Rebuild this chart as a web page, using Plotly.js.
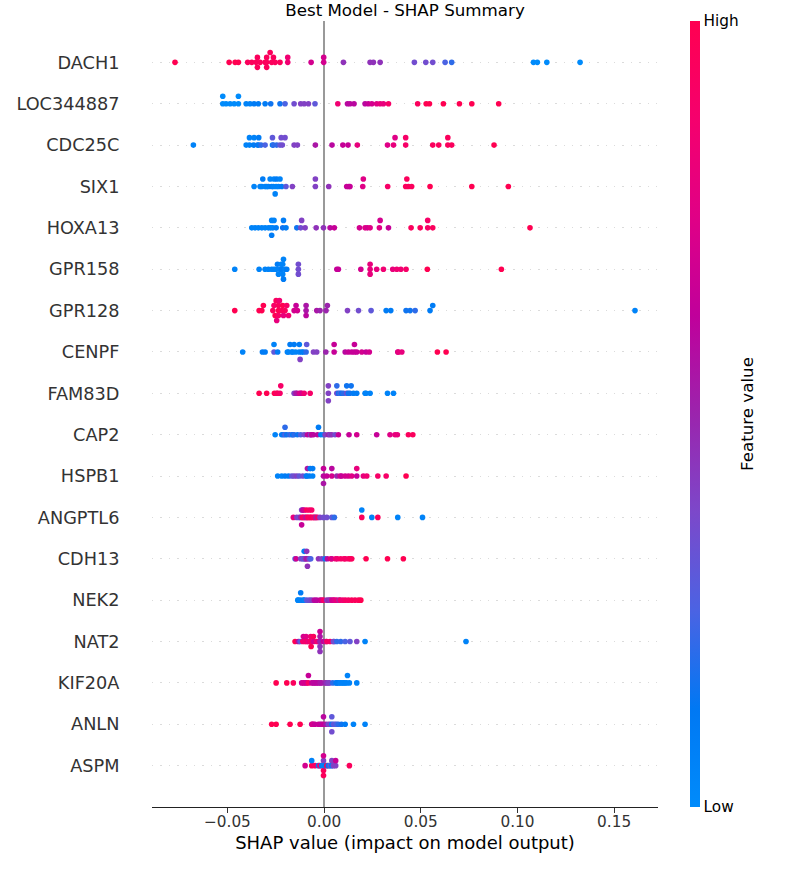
<!DOCTYPE html>
<html><head><meta charset="utf-8">
<script src="https://cdn.plot.ly/plotly-3.0.1.min.js"></script>
<style>html,body{margin:0;padding:0;background:#fff}</style>
</head><body>
<div id="chart" style="width:800px;height:869px"></div>
<script>
// Feature order, top to bottom
const features = ['DACH1','LOC344887','CDC25C','SIX1','HOXA13','GPR158','GPR128','CENPF','FAM83D','CAP2','HSPB1','ANGPTL6','CDH13','NEK2','NAT2','KIF20A','ANLN','ASPM'];

// SHAP values (x) and normalised feature values (colour, 0 = Low, 1 = High)
const DACH1_shap = [-0.0771,-0.0491,-0.0460,-0.0443,-0.0395,-0.0374,-0.0352,-0.0345,-0.0345,-0.0331,-0.0305,-0.0297,-0.0297,-0.0297,-0.0279,-0.0271,-0.0262,-0.0253,-0.0228,-0.0188,-0.0188,-0.0067,-0.0002,-0.0002,0.0100,0.0238,0.0255,0.0290,0.0467,0.0526,0.0562,0.0626,0.0660,0.1083,0.1103,0.1152,0.1324];
const DACH1_value = [1,1,1,1,0.95,0.95,0.95,0.95,0.95,0.95,0.95,0.95,0.95,0.95,0.95,0.95,0.95,0.95,0.95,0.85,0.85,0.7,0.7,0.7,0.45,0.45,0.45,0.45,0.35,0.35,0.35,0.25,0.2,0,0,0,0];

const LOC344887_shap = [-0.0524,-0.0524,-0.0507,-0.0486,-0.0465,-0.0443,-0.0443,-0.0403,-0.0383,-0.0362,-0.0340,-0.0305,-0.0276,-0.0228,-0.0202,-0.0155,-0.0121,-0.0103,-0.0081,-0.0047,0.0071,0.0121,0.0134,0.0155,0.0212,0.0229,0.0247,0.0272,0.0290,0.0307,0.0333,0.0484,0.0528,0.0545,0.0617,0.0700,0.0764,0.0903];
const LOC344887_value = [0,0,0,0,0,0,0,0.05,0.05,0.1,0.1,0.1,0.15,0.15,0.25,0.35,0.4,0.4,0.4,0.3,0.85,0.6,0.6,0.6,0.6,0.65,0.7,0.75,0.8,0.8,0.9,0.95,1,1,1,1,1,1];

const CDC25C_shap = [-0.0676,-0.0403,-0.0386,-0.0386,-0.0365,-0.0362,-0.0345,-0.0338,-0.0338,-0.0326,-0.0305,-0.0267,-0.0267,-0.0262,-0.0245,-0.0228,-0.0222,-0.0216,-0.0202,-0.0155,-0.0138,-0.0045,0.0041,0.0097,0.0124,0.0172,0.0328,0.0359,0.0367,0.0422,0.0422,0.0562,0.0593,0.0640,0.0640,0.0660,0.0879];
const CDC25C_value = [0.05,0.05,0.05,0.05,0.1,0.05,0.15,0.1,0.1,0.2,0.25,0.1,0.3,0.2,0.2,0.3,0.35,0.35,0.35,0.4,0.4,0.55,0.6,0.65,0.65,0.8,0.75,0.8,0.75,0.9,0.9,0.95,0.95,0.95,0.95,0.95,1];

const SIX1_shap = [-0.0362,-0.0331,-0.0322,-0.0317,-0.0305,-0.0297,-0.0288,-0.0279,-0.0271,-0.0262,-0.0259,-0.0253,-0.0248,-0.0245,-0.0236,-0.0228,-0.0219,-0.0197,-0.0164,-0.0045,-0.0045,0.0024,0.0117,0.0128,0.0134,0.0200,0.0203,0.0329,0.0422,0.0428,0.0436,0.0453,0.0548,0.0764,0.0953];
const SIX1_value = [0.05,0.05,0.05,0.1,0.05,0.05,0.05,0.05,0.1,0.05,0.05,0.05,0.05,0.1,0.05,0.05,0.1,0.3,0.4,0.4,0.4,0.45,0.65,0.65,0.65,0.75,0.75,0.9,0.95,0.95,0.95,0.95,1,1,1];

const HOXA13_shap = [-0.0374,-0.0357,-0.0340,-0.0322,-0.0305,-0.0288,-0.0276,-0.0271,-0.0271,-0.0265,-0.0259,-0.0248,-0.0214,-0.0210,-0.0197,-0.0141,-0.0121,-0.0116,-0.0098,-0.0041,-0.0003,0.0031,0.0053,0.0183,0.0212,0.0224,0.0238,0.0286,0.0290,0.0333,0.0450,0.0497,0.0536,0.0536,0.0562,0.1065];
const HOXA13_value = [0.05,0.05,0.05,0.05,0.05,0.05,0.05,0.05,0.1,0.05,0.05,0.1,0.15,0.1,0.1,0.15,0.35,0.4,0.4,0.45,0.45,0.6,0.65,0.7,0.75,0.7,0.75,0.75,0.7,0.65,0.95,0.95,0.9,0.9,0.95,1];

const GPR158_shap = [-0.0462,-0.0336,-0.0305,-0.0288,-0.0271,-0.0259,-0.0248,-0.0241,-0.0236,-0.0228,-0.0222,-0.0219,-0.0214,-0.0214,-0.0210,-0.0210,-0.0202,-0.0193,-0.0133,-0.0133,-0.0133,0.0066,0.0074,0.0190,0.0238,0.0238,0.0238,0.0272,0.0307,0.0355,0.0376,0.0397,0.0424,0.0534,0.0917];
const GPR158_value = [0.05,0.05,0.05,0.05,0.05,0.05,0.05,0.1,0.05,0.05,0.05,0.1,0.05,0.05,0.05,0.1,0.05,0.1,0.35,0.35,0.35,0.65,0.65,0.7,0.8,0.8,0.8,0.8,0.85,0.8,0.85,0.85,0.9,1,1];

const GPR128_shap = [-0.0462,-0.0336,-0.0322,-0.0314,-0.0265,-0.0259,-0.0253,-0.0248,-0.0245,-0.0236,-0.0236,-0.0236,-0.0231,-0.0219,-0.0214,-0.0210,-0.0202,-0.0193,-0.0184,-0.0155,-0.0145,-0.0138,-0.0093,-0.0093,-0.0093,-0.0038,-0.0021,0.0010,0.0017,0.0121,0.0178,0.0243,0.0321,0.0345,0.0424,0.0445,0.0471,0.0548,0.0562,0.1608];
const GPR128_value = [1,1,1,1,0.95,0.9,1,0.95,0.8,1,0.95,0.9,0.85,0.95,1,0.8,0.95,0.9,0.85,0.7,0.65,0.7,0.55,0.55,0.6,0.55,0.5,0.5,0.5,0.4,0.35,0.3,0.1,0.1,0.15,0.15,0.2,0.1,0.1,0.05];

const CENPF_shap = [-0.0421,-0.0319,-0.0305,-0.0259,-0.0259,-0.0240,-0.0190,-0.0184,-0.0176,-0.0167,-0.0162,-0.0155,-0.0147,-0.0129,-0.0128,-0.0124,-0.0116,-0.0107,-0.0093,-0.0090,-0.0055,-0.0038,0.0009,0.0052,0.0052,0.0109,0.0126,0.0143,0.0157,0.0157,0.0169,0.0195,0.0217,0.0234,0.0381,0.0384,0.0402,0.0586,0.0631];
const CENPF_value = [0.05,0.1,0.1,0.3,0.05,0.1,0.05,0.05,0.1,0.05,0.05,0.1,0.05,0.05,0.1,0.4,0.1,0.1,0.2,0.3,0.4,0.4,0.5,0.65,0.65,0.6,0.65,0.65,0.65,0.65,0.65,0.7,0.65,0.7,0.7,0.8,0.8,1,1];

const FAM83D_shap = [-0.0336,-0.0297,-0.0257,-0.0245,-0.0240,-0.0228,-0.0224,-0.0155,-0.0145,-0.0141,-0.0128,-0.0120,-0.0116,-0.0103,-0.0072,0.0022,0.0022,0.0022,0.0066,0.0066,0.0075,0.0083,0.0090,0.0100,0.0117,0.0117,0.0125,0.0134,0.0140,0.0152,0.0169,0.0212,0.0217,0.0238,0.0328,0.0359];
const FAM83D_value = [1,1,1,0.9,0.95,0.9,0.9,0.4,0.55,0.55,0.7,0.75,0.7,0.85,0.9,0.4,0.4,0.4,0.35,0.2,0.15,0.25,0.15,0.2,0.35,0.15,0.15,0.15,0.15,0.1,0.1,0.05,0.05,0.05,0.05,0.05];

const CAP2_shap = [-0.0253,-0.0219,-0.0210,-0.0202,-0.0202,-0.0193,-0.0179,-0.0167,-0.0162,-0.0155,-0.0138,-0.0121,-0.0103,-0.0086,-0.0072,-0.0069,-0.0064,-0.0055,-0.0034,-0.0029,-0.0017,-0.0003,0.0005,0.0022,0.0031,0.0040,0.0057,0.0074,0.0129,0.0169,0.0272,0.0341,0.0367,0.0379,0.0436,0.0459];
const CAP2_value = [0.05,0.1,0.15,0.25,0.2,0.15,0.2,0.25,0.1,0.2,0.15,0.25,0.35,0.6,0.6,0.4,0.65,0.6,0.6,0.1,0.1,0.05,0.4,0.5,0.4,0.45,0.35,0.65,0.65,0.7,0.65,0.75,0.8,0.8,0.95,0.95];

const HSPB1_shap = [-0.0240,-0.0219,-0.0202,-0.0184,-0.0167,-0.0155,-0.0141,-0.0128,-0.0110,-0.0093,-0.0090,-0.0086,-0.0076,-0.0072,-0.0059,-0.0059,-0.0003,-0.0003,-0.0003,0.0014,0.0040,0.0040,0.0066,0.0083,0.0091,0.0109,0.0126,0.0143,0.0169,0.0169,0.0203,0.0221,0.0278,0.0321,0.0424];
const HSPB1_value = [0.05,0.05,0.1,0.1,0.3,0.35,0.4,0.3,0.35,0.2,0.1,0.55,0.1,0.1,0.05,0.1,0.6,0.65,0.55,0.65,0.7,0.6,0.5,0.7,0.65,0.7,0.7,0.75,0.65,0.8,0.8,0.85,0.9,0.9,1];

const ANGPTL6_shap = [-0.0159,-0.0141,-0.0128,-0.0121,-0.0116,-0.0116,-0.0112,-0.0110,-0.0107,-0.0103,-0.0098,-0.0093,-0.0090,-0.0086,-0.0081,-0.0076,-0.0072,-0.0068,-0.0064,-0.0059,-0.0052,-0.0047,-0.0041,-0.0034,-0.0021,-0.0003,0.0014,0.0040,0.0053,0.0195,0.0195,0.0247,0.0278,0.0381,0.0509];
const ANGPTL6_value = [0.8,0.4,0.35,0.5,0.4,0.65,0.95,0.6,0.9,0.7,0.85,0.55,0.95,0.9,0.95,0.9,0.9,0.95,0.9,0.95,0.85,0.9,0.5,0.9,0.4,0.35,0.35,0.3,0.2,0.95,0.05,0.05,0.95,0.05,0.05];

const CDH13_shap = [-0.0150,-0.0145,-0.0121,-0.0110,-0.0105,-0.0103,-0.0098,-0.0095,-0.0090,-0.0090,-0.0086,-0.0080,-0.0076,-0.0069,-0.0029,-0.0012,0.0005,0.0017,0.0036,0.0040,0.0060,0.0069,0.0086,0.0103,0.0110,0.0126,0.0135,0.0143,0.0217,0.0328,0.0410];
const CDH13_value = [0.25,0.7,0.4,0.35,0.3,0.1,0.4,0.45,0.55,0.45,0.45,0.5,0.35,0.25,0.45,0.4,0.15,0.6,0.95,0.7,0.85,0.85,0.9,0.9,0.9,0.9,0.95,0.95,1,1,1];

const NEK2_shap = [-0.0136,-0.0133,-0.0121,-0.0121,-0.0107,-0.0103,-0.0090,-0.0076,-0.0064,-0.0050,-0.0038,-0.0021,-0.0012,-0.0003,0.0014,0.0025,0.0031,0.0040,0.0048,0.0055,0.0066,0.0079,0.0083,0.0097,0.0110,0.0126,0.0143,0.0160,0.0178,0.0190];
const NEK2_value = [0.05,0.05,0.05,0.1,0.15,0.05,0.3,0.35,0.4,0.6,0.6,0.65,0.7,0.9,0.45,0.5,0.45,0.7,0.7,0.75,0.8,0.45,0.85,0.85,0.9,0.9,0.95,0.95,0.95,1];

const NAT2_shap = [-0.0150,-0.0133,-0.0124,-0.0110,-0.0107,-0.0098,-0.0093,-0.0090,-0.0081,-0.0072,-0.0069,-0.0067,-0.0055,-0.0055,-0.0038,-0.0029,-0.0021,-0.0021,-0.0021,-0.0021,-0.0021,-0.0003,0.0010,0.0014,0.0031,0.0048,0.0052,0.0066,0.0086,0.0109,0.0134,0.0169,0.0212,0.0734];
const NAT2_value = [1,0.6,0.3,0.9,0.7,0.85,0.75,0.9,0.8,0.9,0.85,1,0.7,0.95,0.85,0.8,0.5,0.55,0.45,0.65,0.45,0.65,0.5,0.9,0.9,0.35,0.35,0.2,0.2,0.25,0.3,0.4,0.05,0.05];

const KIF20A_shap = [-0.0248,-0.0193,-0.0159,-0.0116,-0.0107,-0.0098,-0.0090,-0.0081,-0.0081,-0.0064,-0.0055,-0.0047,-0.0038,-0.0029,-0.0020,-0.0012,0.0005,0.0013,0.0022,0.0028,0.0045,0.0062,0.0066,0.0075,0.0083,0.0092,0.0100,0.0108,0.0117,0.0121,0.0131,0.0169];
const KIF20A_value = [1,1,0.95,0.65,0.7,0.7,0.7,0.9,0.65,0.65,0.6,0.6,0.6,0.6,0.55,0.55,0.5,0.45,0.4,0.4,0.2,0.1,0.1,0.1,0.05,0.05,0.05,0.05,0.05,0.05,0.05,0.05];

const ANLN_shap = [-0.0271,-0.0248,-0.0176,-0.0124,-0.0064,-0.0060,-0.0055,-0.0047,-0.0029,-0.0020,-0.0012,-0.0003,-0.0003,0.0010,0.0022,0.0031,0.0040,0.0040,0.0040,0.0048,0.0057,0.0065,0.0074,0.0090,0.0109,0.0152,0.0212];
const ANLN_value = [1,1,1,1,0.7,0.7,0.7,0.65,0.65,0.65,0.6,0.65,0.6,0.55,0.35,0.4,0.1,0.3,0.35,0.3,0.3,0.25,0.2,0.15,0.1,0.05,0.05];

const ASPM_shap = [-0.0098,-0.0064,-0.0064,-0.0047,-0.0029,-0.0022,-0.0012,-0.0003,-0.0003,-0.0003,-0.0003,-0.0003,0.0005,0.0014,0.0022,0.0031,0.0040,0.0040,0.0048,0.0060,0.0060,0.0131];
const ASPM_value = [0.7,0.95,0.05,0.9,0.1,0.85,0.1,0.05,0.4,0.95,0.7,0.95,0.1,0.95,0.1,0.3,0.1,0.4,0.4,0.4,0.65,0.95];

const colorTickLabels = ['Low','High'];

const shapRows = [DACH1_shap,LOC344887_shap,CDC25C_shap,SIX1_shap,HOXA13_shap,GPR158_shap,GPR128_shap,CENPF_shap,FAM83D_shap,CAP2_shap,HSPB1_shap,ANGPTL6_shap,CDH13_shap,NEK2_shap,NAT2_shap,KIF20A_shap,ANLN_shap,ASPM_shap];
const valueRows = [DACH1_value,LOC344887_value,CDC25C_value,SIX1_value,HOXA13_value,GPR158_value,GPR128_value,CENPF_value,FAM83D_value,CAP2_value,HSPB1_value,ANGPTL6_value,CDH13_value,NEK2_value,NAT2_value,KIF20A_value,ANLN_value,ASPM_value];

// SHAP-style beeswarm vertical jitter (binning + alternating layers)
function swarmOffsets(vals, rowHeight){
  const N = vals.length, nbins = 100;
  const mn = Math.min(...vals), mx = Math.max(...vals);
  const quant = vals.map(v => Math.round(nbins*(v-mn)/(mx-mn+1e-8)));
  const inds = [...Array(N).keys()].sort((a,b) => (quant[a]-quant[b]) || (a-b));
  let layer = 0, last = -1;
  const ys = new Array(N).fill(0);
  for (const ind of inds){
    if (quant[ind] !== last) layer = 0;
    ys[ind] = Math.ceil(layer/2) * ((layer%2)*2 - 1);
    layer++; last = quant[ind];
  }
  const m = Math.max(...ys.map(y => y+1));
  return ys.map(y => y*0.9*(rowHeight/m));
}

const nF = features.length;
const xs = [], ys = [], cs = [];
features.forEach((f,i) => {
  const pos = nF-1-i;
  const sv = shapRows[i], fv = valueRows[i];
  const n = Math.min(sv.length, fv.length);
  const off = swarmOffsets(sv.slice(0,n), 0.4);
  for (let k=0;k<n;k++){ xs.push(sv[k]); ys.push(pos+off[k]); cs.push(fv[k]); }
});

const redBlue = [
  [0.0,'rgb(0,139,251)'],[0.125,'rgb(0,120,243)'],[0.25,'rgb(75,99,227)'],
  [0.375,'rgb(124,72,202)'],[0.5,'rgb(155,36,173)'],[0.625,'rgb(192,0,155)'],
  [0.75,'rgb(224,0,134)'],[0.875,'rgb(245,0,109)'],[1.0,'rgb(255,0,81)']
];

const FONT = 'DejaVu Sans, Verdana, sans-serif';

const trace = {
  type:'scatter', mode:'markers', x: xs, y: ys, hoverinfo:'skip',
  marker:{
    size:5.6, color: cs, cmin:0, cmax:1, colorscale: redBlue, line:{width:0},
    showscale:true,
    colorbar:{
      thickness:10, thicknessmode:'pixels', len:1, lenmode:'fraction',
      x:1.063, xanchor:'left', y:0.5, yanchor:'middle', xpad:0, ypad:0,
      outlinewidth:0, tickvals:[0,1], ticktext: colorTickLabels, ticks:'',
      tickfont:{family:FONT, size:15.3, color:'#000'}
    }
  }
};

const layout = {
  width:800, height:869,
  margin:{l:152, r:142, t:21, b:62},
  paper_bgcolor:'#fff', plot_bgcolor:'#fff',
  font:{family:FONT},
  showlegend:false,
  title:{text:'Best Model - SHAP Summary', font:{family:FONT, size:16.7, color:'#000'},
         x:0.5, xref:'paper', xanchor:'center', y:1, yref:'paper', yanchor:'bottom', pad:{b:5}},
  annotations:[{
    text:'Feature value', textangle:-90, showarrow:false,
    xref:'paper', yref:'paper', x:(747-152)/506, y:0.5, xanchor:'center', yanchor:'middle',
    font:{family:FONT, size:16.7, color:'#000'}
  }],
  xaxis:{
    range:[-0.089, 0.1727], tick0:0, dtick:0.05, tickformat:'.2f',
    showline:true, linecolor:'#222', linewidth:1.1,
    ticks:'outside', ticklen:5, tickwidth:1.1, tickcolor:'#333',
    ticklabelstandoff:-4,
    tickfont:{family:FONT, size:15.3, color:'#333'},
    showgrid:false, zeroline:true, zerolinecolor:'#999', zerolinewidth:2,
    title:{text:'SHAP value (impact on model output)', font:{family:FONT, size:18, color:'#000'}, standoff:5},
    fixedrange:true
  },
  yaxis:{
    range:[-1, nF], tickmode:'array',
    tickvals: features.map((f,i)=>nF-1-i), ticktext: features,
    showgrid:true, gridcolor:'#cccccc', gridwidth:0.7, griddash:'1.4px,7px',
    zeroline:false, showline:false,
    ticks:'outside', ticklen:28, tickcolor:'rgba(0,0,0,0)',
    tickfont:{family:FONT, size:17.7, color:'#333'},
    fixedrange:true
  }
};

Plotly.newPlot('chart', [trace], layout, {displayModeBar:false, staticPlot:true});
</script>
</body></html>
